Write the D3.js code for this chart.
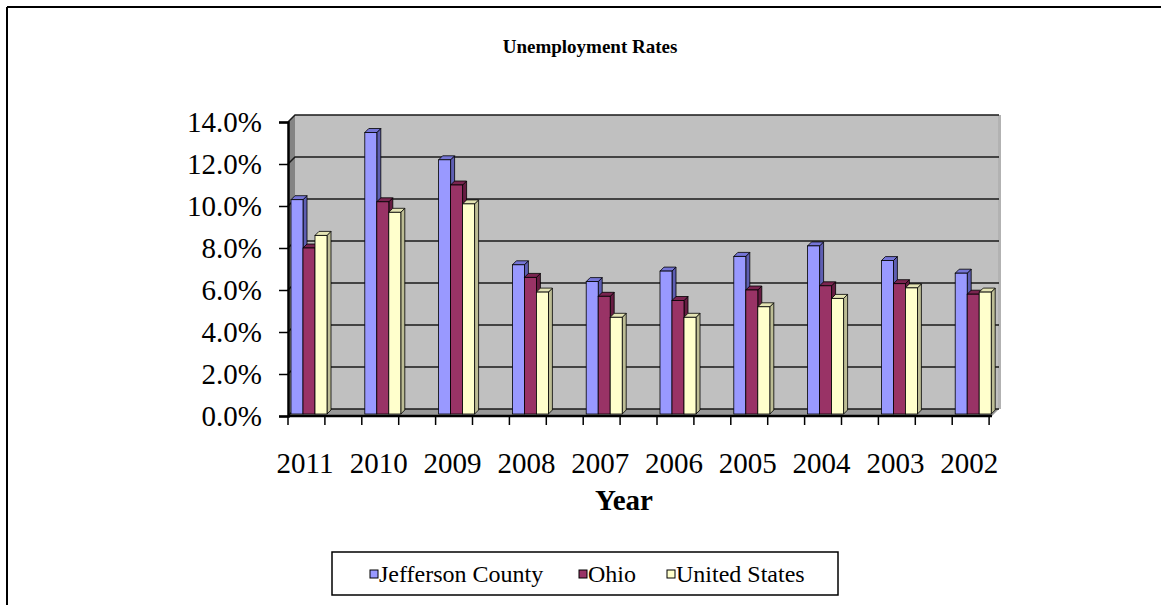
<!DOCTYPE html>
<html>
<head>
<meta charset="utf-8">
<script src="https://cdn.jsdelivr.net/npm/d3@7/dist/d3.min.js"></script>
<style>
  html, body { margin: 0; padding: 0; background: #fff; }
  svg { display: block; }
  text { font-family: "Liberation Serif", "Times New Roman", serif; fill: #000; }
</style>
</head>
<body>
<svg id="chart" width="1161" height="605"></svg>
<script>
// Unemployment rates (%) by year
const years = ["2011", "2010", "2009", "2008", "2007", "2006", "2005", "2004", "2003", "2002"];
const seriesNames = ["Jefferson County", "Ohio", "United States"];
const jefferson = [10.3, 13.5, 12.2, 7.2, 6.4, 6.9, 7.6, 8.1, 7.4, 6.8];
const ohio = [8.0, 10.2, 11.0, 6.6, 5.7, 5.5, 6.0, 6.2, 6.3, 5.8];
const unitedStates = [8.6, 9.7, 10.1, 5.9, 4.7, 4.7, 5.2, 5.6, 6.1, 5.9];
const yTicks = [0, 2, 4, 6, 8, 10, 12, 14];

const seriesValues = [jefferson, ohio, unitedStates];
const fronts = ["#9999FF", "#993366", "#FFFFCC"];
const tops   = ["#7575D6", "#7A2450", "#E4E4B4"];
const sides  = ["#5E5EB2", "#661C42", "#BDBD95"];

const svg = d3.select("#chart");

// outer chart frame (left and top edges visible)
svg.append("line").attr("x1", 7).attr("y1", 7).attr("x2", 1161).attr("y2", 7)
  .attr("stroke", "#000").attr("stroke-width", 2);
svg.append("line").attr("x1", 7).attr("y1", 7).attr("x2", 7).attr("y2", 605)
  .attr("stroke", "#000").attr("stroke-width", 2);

// title
svg.append("text").attr("x", 590).attr("y", 53).attr("text-anchor", "middle")
  .attr("font-weight", "bold").attr("font-size", 19).text("Unemployment Rates");

// plot geometry
const left = 288, right = 992, base = 416;
const depth = 7;           // oblique offset of the walls
const barDepth = 4;        // oblique offset of the bars

const y = d3.scaleLinear().domain([0, 14]).range([base, base - 14 * 21]);
const x = d3.scaleBand().domain(years).range([left, left + 10 * 73.8]);
const xs = d3.scaleBand().domain(seriesNames).range([3, 39]);

const g = svg.append("g");

// back wall
g.append("rect")
  .attr("x", left + depth).attr("y", y(14) - depth)
  .attr("width", right - left).attr("height", y(0) - y(14))
  .attr("fill", "#C0C0C0");
// right edge of the wall
g.append("rect")
  .attr("x", right + depth - 1).attr("y", y(14) - depth)
  .attr("width", 3).attr("height", y(0) - y(14))
  .attr("fill", "#B2B2B2");
// side wall
g.append("polygon")
  .attr("points", [[left, y(14)], [left + depth, y(14) - depth], [left + depth, y(0) - depth], [left, y(0)]].map(p => p.join(",")).join(" "))
  .attr("fill", "#848484");
// floor
g.append("polygon")
  .attr("points", [[left, y(0)], [left + depth, y(0) - depth], [right + depth, y(0) - depth], [right, y(0)]].map(p => p.join(",")).join(" "))
  .attr("fill", "#989898");

// gridlines on side and back walls
yTicks.forEach(t => {
  const yy = y(t);
  g.append("polyline")
    .attr("points", `${left},${yy} ${left + depth},${yy - depth} ${right + depth},${yy - depth}`)
    .attr("fill", "none").attr("stroke", "#1a1a1a").attr("stroke-width", 1.5);
});

// bars
years.forEach((yr, i) => {
  seriesNames.forEach((s, j) => {
    const v = seriesValues[j][i];
    const x0 = x(yr) + xs(s);
    const w = xs.bandwidth();
    const yt = y(v);
    const yb = base - 2;
    const bg = g.append("g");
    bg.append("polygon")
      .attr("points", `${x0 + w},${yt} ${x0 + w + barDepth},${yt - barDepth} ${x0 + w + barDepth},${yb - barDepth} ${x0 + w},${yb}`)
      .attr("fill", sides[j]).attr("stroke", "#000").attr("stroke-width", 0.8);
    bg.append("polygon")
      .attr("points", `${x0},${yt} ${x0 + barDepth},${yt - barDepth} ${x0 + w + barDepth},${yt - barDepth} ${x0 + w},${yt}`)
      .attr("fill", tops[j]).attr("stroke", "#000").attr("stroke-width", 0.8);
    bg.append("rect")
      .attr("x", x0).attr("y", yt).attr("width", w).attr("height", yb - yt)
      .attr("fill", fronts[j]).attr("stroke", "#000").attr("stroke-width", 0.8);
  });
});

// y axis
const yAxis = d3.axisLeft(y).tickValues(yTicks).tickSize(9).tickPadding(17)
  .tickFormat(d => d.toFixed(1) + "%");
const ya = svg.append("g").attr("transform", `translate(${left},0)`).call(yAxis);
ya.select(".domain").attr("stroke", "#000").attr("stroke-width", 2.5);
ya.selectAll(".tick line").attr("stroke", "#000").attr("stroke-width", 1.5);
ya.selectAll("text").attr("font-family", "Liberation Serif").attr("font-size", 29);

// x axis line and ticks
svg.append("line").attr("x1", left).attr("y1", base).attr("x2", right).attr("y2", base)
  .attr("stroke", "#000").attr("stroke-width", 2.5);
const tickXs = d3.range(20).map(k => x(years[Math.floor(k / 2)]) + (k % 2) * x.bandwidth() / 2);
svg.selectAll(".xt").data(tickXs).join("line")
  .attr("x1", d => d).attr("x2", d => d).attr("y1", base).attr("y2", base + 9)
  .attr("stroke", "#000").attr("stroke-width", 1.5);

svg.selectAll(".xl").data(years).join("text")
  .attr("x", d => x(d) + 17).attr("y", 473).attr("text-anchor", "middle")
  .attr("font-size", 29).text(d => d);

svg.append("text").attr("x", 624).attr("y", 510).attr("text-anchor", "middle")
  .attr("font-weight", "bold").attr("font-size", 29).text("Year");

// legend
const lg = svg.append("g");
lg.append("rect").attr("x", 332).attr("y", 552).attr("width", 506).attr("height", 43)
  .attr("fill", "#fff").attr("stroke", "#000").attr("stroke-width", 1.5);
const legendX = [370, 579, 667];
seriesNames.forEach((s, j) => {
  lg.append("rect").attr("x", legendX[j]).attr("y", 570).attr("width", 8).attr("height", 8)
    .attr("fill", fronts[j]).attr("stroke", "#000").attr("stroke-width", 1);
  lg.append("text").attr("x", legendX[j] + 9).attr("y", 582).attr("font-size", 24).text(s);
});
</script>
</body>
</html>
